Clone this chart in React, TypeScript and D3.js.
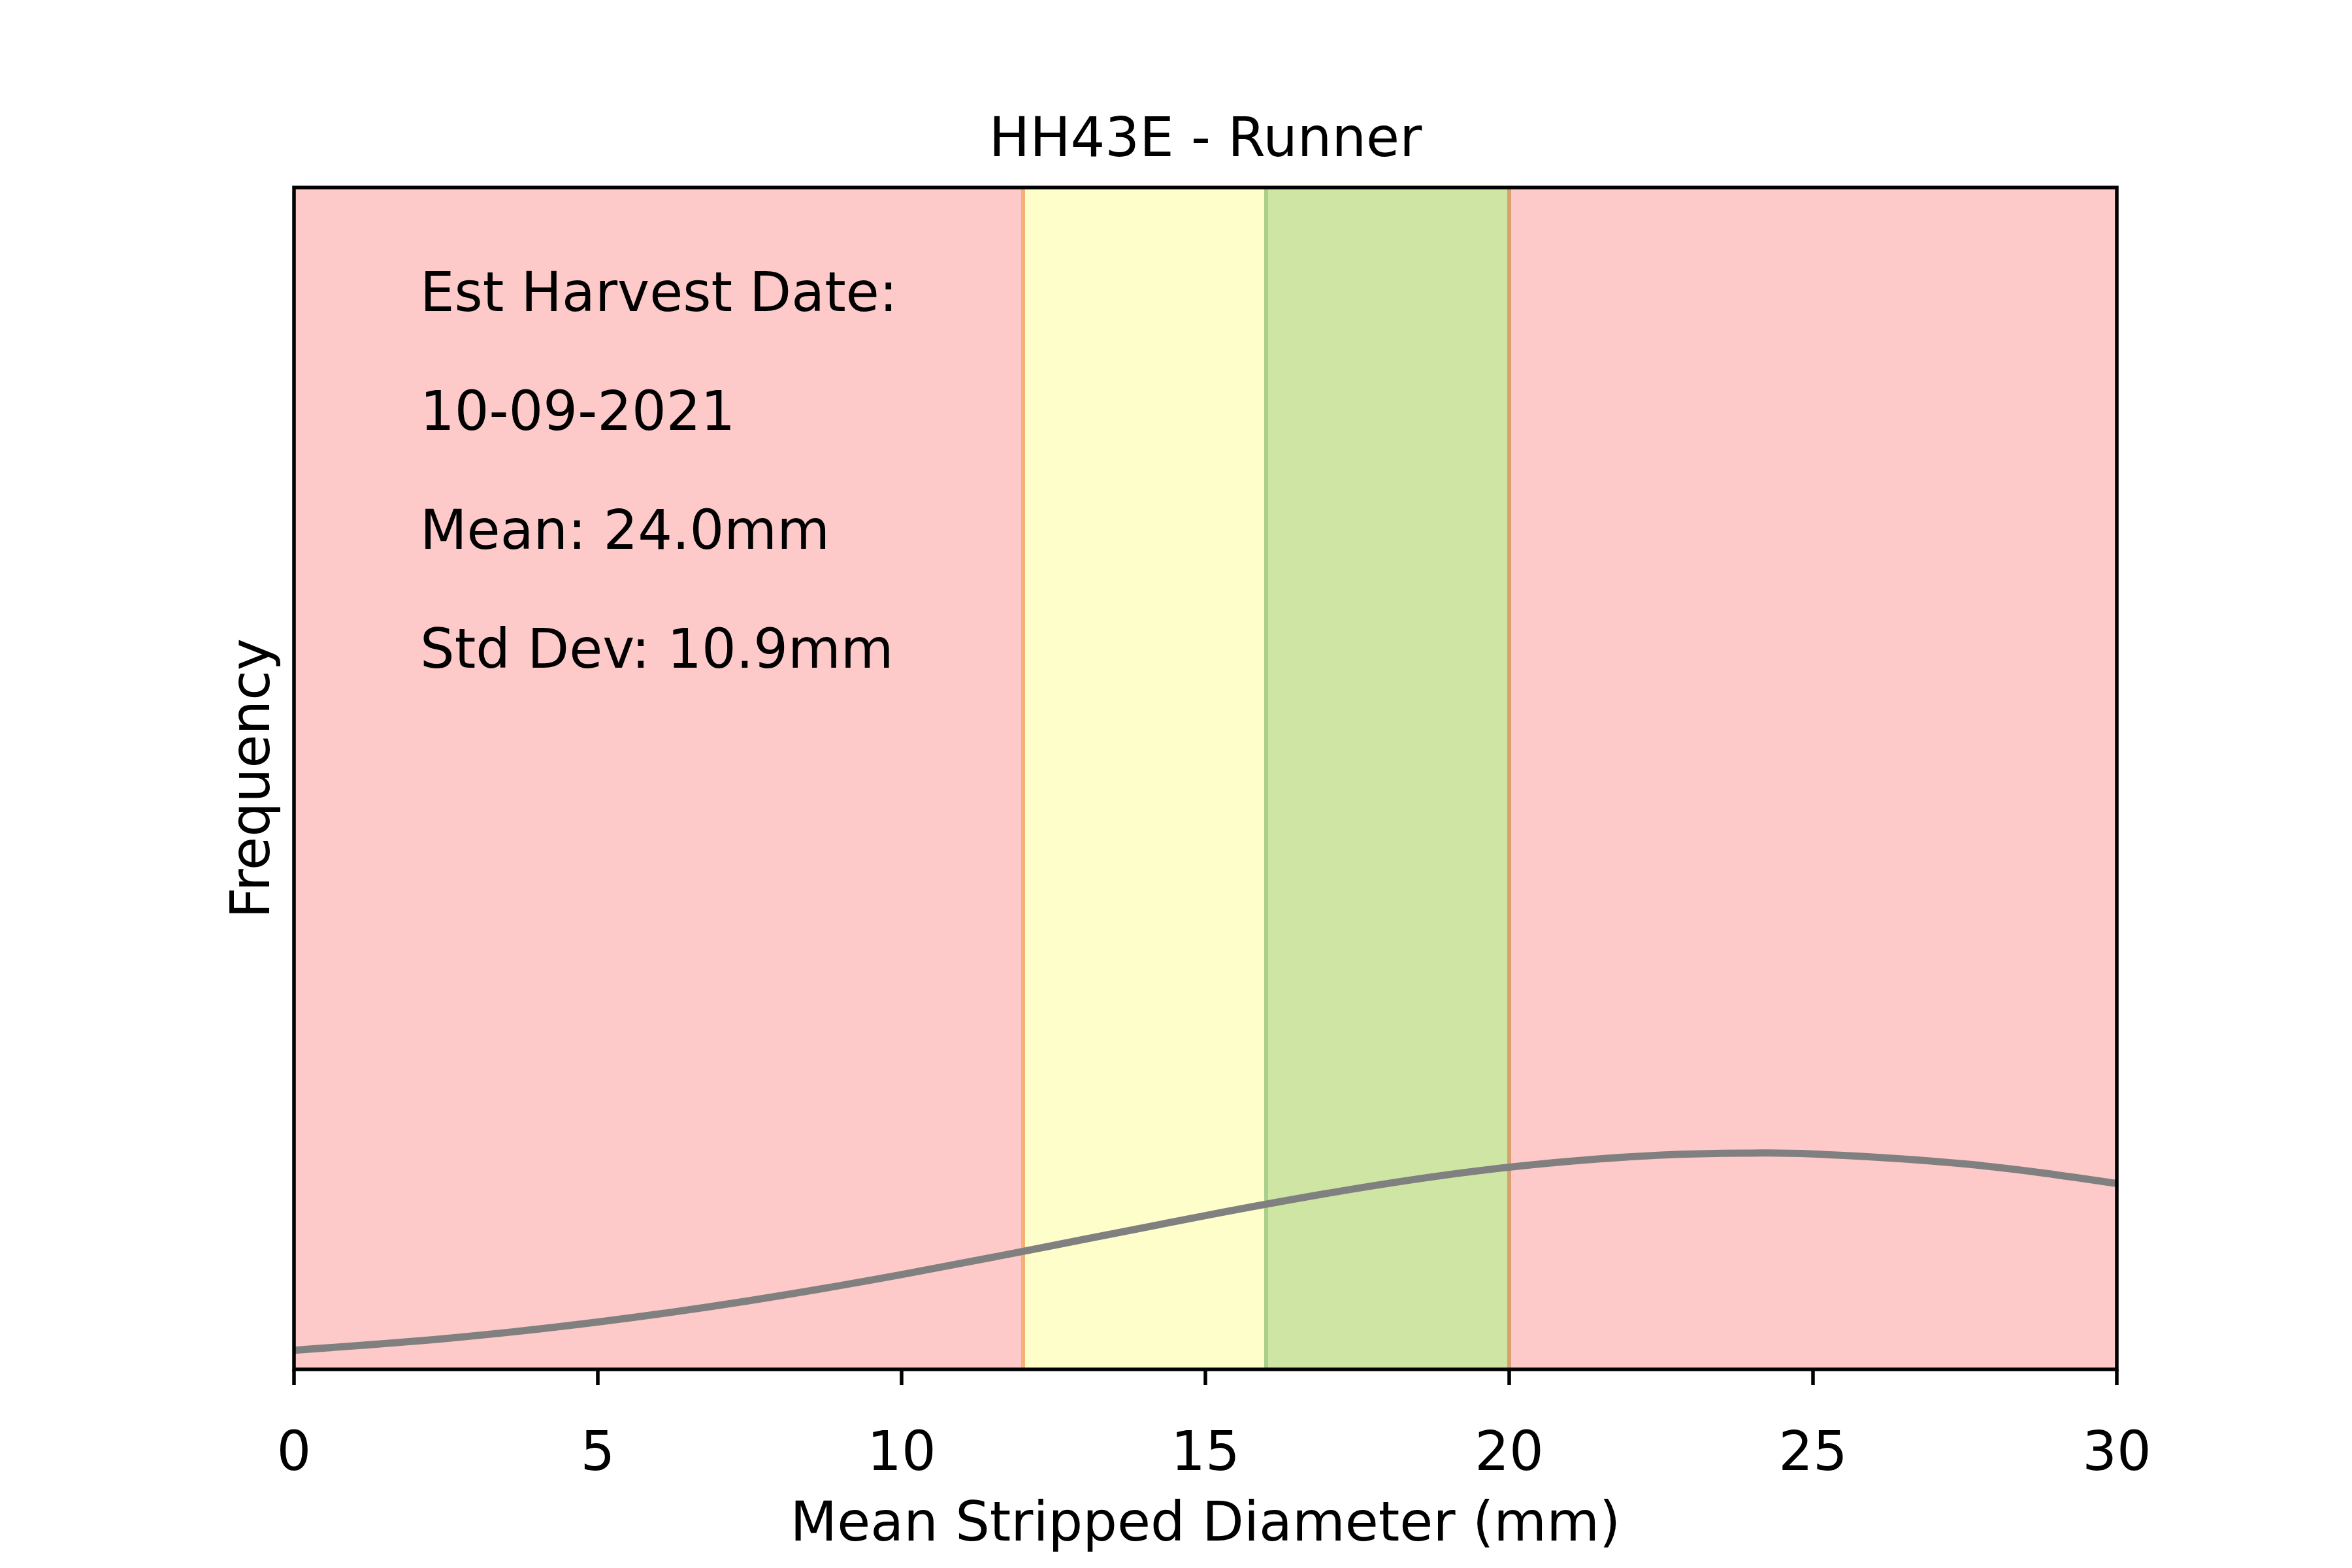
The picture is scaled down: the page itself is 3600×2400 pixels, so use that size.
import React from 'react';
import * as d3 from 'd3';

// zone boundaries (mm)
const zoneEdges = [0, 12, 16, 20, 30];
const zoneColors = ['#fdc9c9', '#fefecb', '#cfe5a3', '#fdc9c9'];
const edgeLines = [
  { x: 12, color: '#f5b07a' },
  { x: 16, color: '#a9d08a' },
  { x: 20, color: '#d9a070' },
];

// fitted distribution curve
const curveX = [0, 2.5, 5, 7.5, 10, 12.5, 15, 17.5, 20, 22.5, 24, 25, 27.5, 30];
const curveY = [0.00324, 0.00523, 0.00801, 0.01164, 0.01604, 0.02098, 0.02603, 0.03064, 0.03422, 0.03626, 0.0366, 0.03645, 0.03476, 0.03146];

const xTicks = [0, 5, 10, 15, 20, 25, 30];
const infoLines = ['Est Harvest Date:', '10-09-2021', 'Mean: 24.0mm', 'Std Dev: 10.9mm'];

const W = 3600;
const H = 2400;
const m = { left: 450, right: 3240, top: 287, bottom: 2096 };
const font = 'DejaVu Sans';
const fs = 83;

export default function App() {
  const x = d3.scaleLinear().domain([0, 30]).range([m.left, m.right]);
  const y = d3.scaleLinear().domain([0, 0.2]).range([m.bottom, m.top]);
  const line = d3
    .line<number>()
    .x((_, i) => x(curveX[i]))
    .y((d) => y(d))
    .curve(d3.curveNatural);

  return (
    <svg width={W} height={H} style={{ position: 'absolute', top: 0, left: 0, background: '#fff' }} fontFamily={font}>
      {zoneColors.map((c, i) => (
        <rect key={i} x={x(zoneEdges[i])} y={m.top} width={x(zoneEdges[i + 1]) - x(zoneEdges[i])} height={m.bottom - m.top} fill={c} />
      ))}
      {edgeLines.map((e) => (
        <line key={e.x} x1={x(e.x)} x2={x(e.x)} y1={m.top} y2={m.bottom} stroke={e.color} strokeWidth={6} />
      ))}
      <path d={line(curveY) || ''} fill="none" stroke="#808080" strokeWidth={11} />
      <rect x={m.left} y={m.top} width={m.right - m.left} height={m.bottom - m.top} fill="none" stroke="#000" strokeWidth={5.5} />
      {xTicks.map((t) => (
        <g key={t}>
          <line x1={x(t)} x2={x(t)} y1={m.bottom} y2={m.bottom + 24} stroke="#000" strokeWidth={5.5} />
          <text x={x(t)} y={2250} fontSize={fs} textAnchor="middle">{t}</text>
        </g>
      ))}
      <text x={(m.left + m.right) / 2} y={239} fontSize={fs} textAnchor="middle">HH43E - Runner</text>
      <text x={(m.left + m.right) / 2} y={2358} fontSize={fs} textAnchor="middle">Mean Stripped Diameter (mm)</text>
      <text transform={`translate(412,${(m.top + m.bottom) / 2}) rotate(-90)`} fontSize={fs} textAnchor="middle">Frequency</text>
      {infoLines.map((s, i) => (
        <text key={i} x={643} y={476 + i * 182} fontSize={fs}>{s}</text>
      ))}
    </svg>
  );
}
